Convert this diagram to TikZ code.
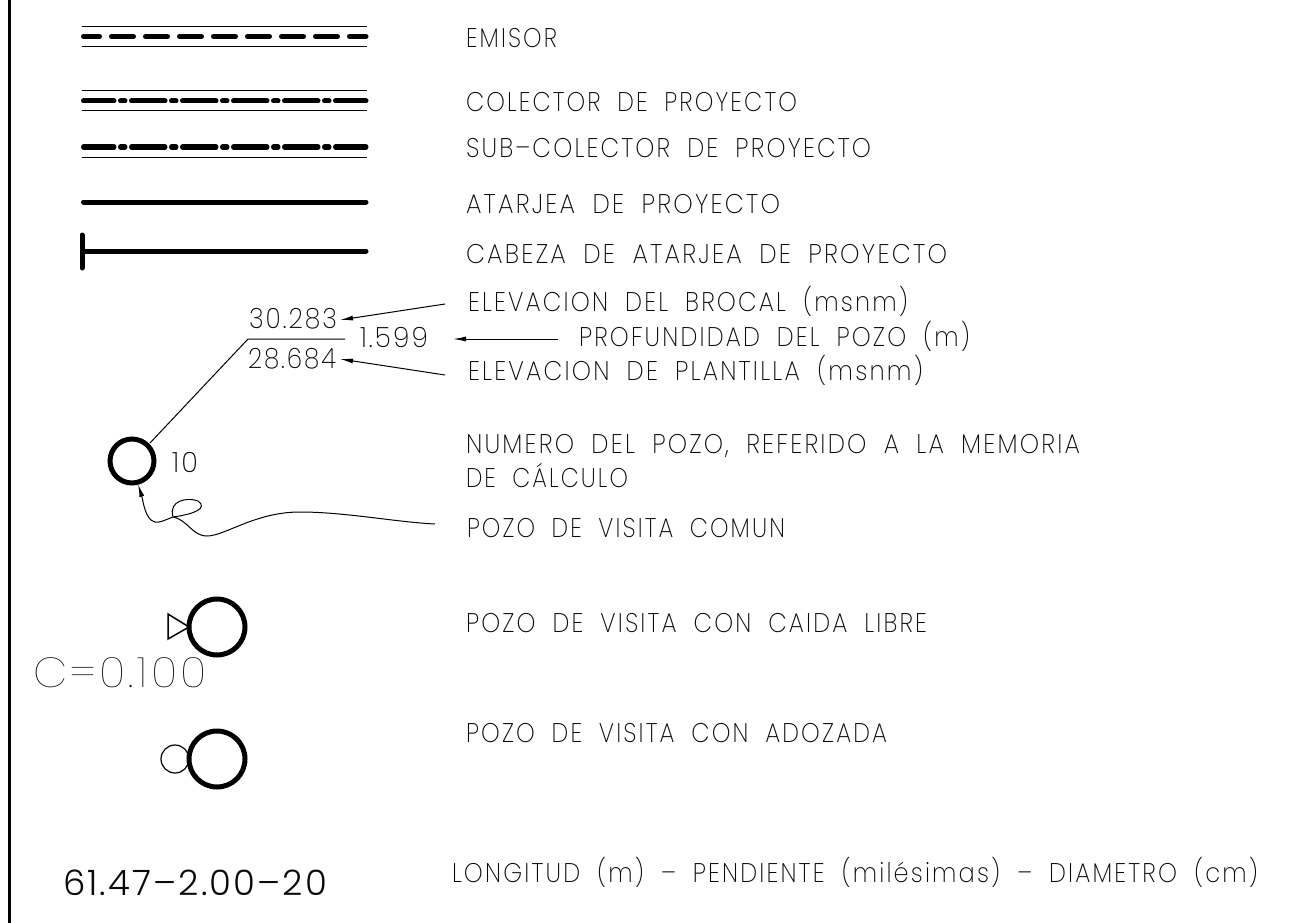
\documentclass[tikz,border=0pt]{standalone}
\usepackage{graphicx}
\usepackage{fontspec}
\setmainfont{Poppins}[UprightFont=* ExtraLight,LetterSpace=9,WordSpace=1.9]
\newfontfamily\numfont{Poppins}[UprightFont=* ExtraLight,LetterSpace=8]
\newfontfamily\boldnum{Poppins}[UprightFont=* Light,LetterSpace=6]
\newfontfamily\thinfont{Poppins}[UprightFont=* Thin,LetterSpace=8]
\usetikzlibrary{arrows.meta}
\definecolor{ink}{HTML}{0A0A0A}
\newcommand\fitw[2]{\resizebox{#1pt}{\height}{#2}}
\tikzset{
 x=1pt,y=-1pt,
 txt/.style={anchor=base west,inner sep=0pt,outer sep=0pt,text=ink,font=\fontsize{27}{27}\selectfont},
 small/.style={txt,font=\numfont\fontsize{28}{28}\selectfont},
 big/.style={txt,font=\thinfont\fontsize{42}{42}\selectfont},
 mid/.style={txt,font=\boldnum\fontsize{35}{35}\selectfont},
 thin line/.style={line width=1pt,black},
 heavy/.style={line width=5pt,line cap=round,black},
 emisor/.style={heavy,dash pattern=on 22pt off 12pt,dash phase=6pt},
 colector/.style={heavy,dash pattern=on 33.5pt off 6.5pt on 4.5pt off 6.5pt,dash phase=3pt},
 pozo/.style={circle,draw=black,line width=5pt,inner sep=0pt,outer sep=0pt},
 lead/.style={line width=1pt,black,-{Latex[length=13pt,width=5pt]}},
}
\begin{document}
\begin{tikzpicture}
\useasboundingbox (0,0) rectangle (1314,923);
\fill[white] (0,0) rectangle (1314,923);
% frame
\coordinate (fa) at (9.5,0); \coordinate (fb) at (9.5,923);
\draw[line width=3.5pt] (fa)--(fb);
% line samples
\foreach \n/\y in {a/26.5,b/47,c/90.5,d/111,e/157}{
 \coordinate (\n1) at (82,\y); \coordinate (\n2) at (367,\y);
 \draw[thin line] (\n1)--(\n2);}
\foreach \n/\y in {m/36.5,p/101,q/147,r/202,s/251}{
 \coordinate (\n1) at (83.5,\y); \coordinate (\n2) at (366,\y);}
\draw[emisor] (m1)--(m2);
\draw[colector] (p1)--(p2);
\draw[colector] (q1)--(q2);
\draw[heavy] (r1)--(r2);
\draw[heavy] (s1)--(s2);
\coordinate (t1) at (82,235); \coordinate (t2) at (82,268);
\draw[heavy] (t1)--(t2);
% labels
\node[txt] (l1) at (466,48) {\fitw{91}{EMISOR}};
\node[txt] (l2) at (466,112) {\fitw{331}{COLECTOR DE PROYECTO}};
\node[txt] (l3) at (466,158) {\fitw{405}{SUB–COLECTOR DE PROYECTO}};
\node[txt] (l4) at (466,213) {\fitw{314}{ATARJEA DE PROYECTO}};
\node[txt] (l5) at (466,263) {\fitw{481}{CABEZA DE ATARJEA DE PROYECTO}};
\node[txt] (l6) at (468,311) {\fitw{440}{ELEVACION DEL BROCAL (msnm)}};
\node[txt] (l7) at (579,346) {\fitw{391}{PROFUNDIDAD DEL POZO (m)}};
\node[txt] (l8) at (468,380) {\fitw{455}{ELEVACION DE PLANTILLA (msnm)}};
\node[txt] (l9) at (466,453) {\fitw{614}{NUMERO DEL POZO, REFERIDO A LA MEMORIA}};
\node[txt] (l10) at (466,487) {\fitw{162}{DE CÁLCULO}};
\node[txt] (l11) at (467,537) {\fitw{318}{POZO DE VISITA COMUN}};
\node[txt] (l12) at (466,632) {\fitw{461}{POZO DE VISITA CON CAIDA LIBRE}};
\node[txt] (l13) at (466,742) {\fitw{421}{POZO DE VISITA CON ADOZADA}};
\node[txt] (l14) at (452,882) {\fitw{806}{LONGITUD (m) – PENDIENTE (milésimas) – DIAMETRO (cm)}};
% elevation group
\node[small] (n1) at (249,328) {\fitw{88}{30.283}};
\node[small] (n2) at (360,347) {\fitw{68}{1.599}};
\node[small] (n3) at (248,368) {\fitw{88}{28.684}};
\node[small] (n4) at (172,472) {\fitw{26}{10}};
\node[pozo,minimum size=44pt] (c1) at (132,461) {};
\coordinate (k1) at (345,339); \coordinate (k2) at (248,339); \coordinate (k3) at (150,443);
\draw[thin line] (k1)--(k2)--(k3);
\coordinate (a1) at (445,304); \coordinate (a2) at (340,320);
\coordinate (a3) at (558,339); \coordinate (a4) at (453,339);
\coordinate (a5) at (445,375); \coordinate (a6) at (340,359);
\draw[lead] (a1)--(a2);
\draw[lead] (a3)--(a4);
\draw[lead] (a5)--(a6);
% wiggly leader
\coordinate (w1) at (435,524); \coordinate (w2) at (138,484);
\draw[lead] (w1) .. controls (395,522) and (345,512) .. (300,512)
 .. controls (255,512) and (225,536) .. (207,536)
 .. controls (192,536) and (188,520) .. (173,517)
 .. controls (168,500) and (188,497) .. (198,501)
 .. controls (208,508) and (195,514) .. (173,517)
 .. controls (165,520) and (160,523) .. (155,522)
 .. controls (145,520) and (143,500) .. (w2);
% drop manhole
\node[pozo,minimum size=56pt] (c2) at (217,627) {};
\coordinate (d1) at (189,627); \coordinate (d2) at (168,614); \coordinate (d3) at (168,639);
\draw[line width=1.5pt,black,line join=miter] (d1)--(d2)--(d3)--cycle;
\node[big] (cc) at (33,687) {\fitw{174}{C=0.100}};
% side manhole
\node[pozo,minimum size=56pt] (c3) at (217,759) {};
\node[circle,draw=black,line width=1.2pt,minimum size=28pt,inner sep=0pt] (c4) at (175,759) {};
\node[mid] (bt) at (63,895) {\fitw{264}{61.47–2.00–20}};
\end{tikzpicture}
\end{document}
